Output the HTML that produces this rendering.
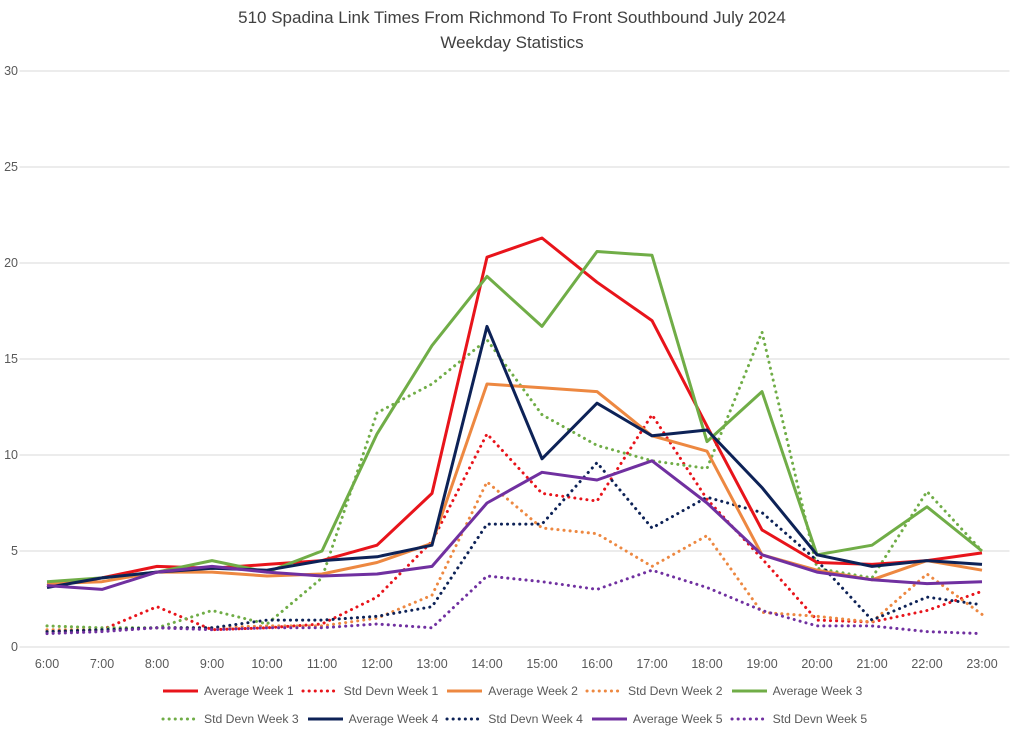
<!DOCTYPE html>
<html><head><meta charset="utf-8"><style>
body{margin:0;background:#fff;font-family:"Liberation Sans",sans-serif;}
#wrap{position:relative;width:1024px;height:738px;overflow:hidden;}
.legrow{position:absolute;left:160px;display:flex;align-items:center;font-size:12.2px;color:#595959;white-space:nowrap;}
.item{display:flex;align-items:center;margin-right:6px;}
.item svg{margin-right:4px;}
</style></head><body>
<div id="wrap">
<svg id="chart" width="1024" height="738" style="position:absolute;left:0;top:0">
<text x="512" y="23" text-anchor="middle" font-size="17" fill="#404040">510 Spadina Link Times From Richmond To Front Southbound July 2024</text>
<text x="512" y="48" text-anchor="middle" font-size="17" fill="#404040">Weekday Statistics</text>
<g id="grid"></g><g id="series"></g>
</svg>
<div class="legrow" style="top:684px" id="leg1"></div>
<div class="legrow" style="top:712px" id="leg2"></div>
</div>
<script>
const categories=["6:00","7:00","8:00","9:00","10:00","11:00","12:00","13:00","14:00","15:00","16:00","17:00","18:00","19:00","20:00","21:00","22:00","23:00"];
const yTicks=[0,5,10,15,20,25,30];
const avgW1=[3.2,3.6,4.2,4.1,4.3,4.5,5.3,8.0,20.3,21.3,19.0,17.0,11.5,6.1,4.4,4.3,4.5,4.9];
const sdW1=[0.8,0.9,2.1,0.9,1.0,1.2,2.6,5.5,11.1,8.0,7.6,12.1,7.7,4.6,1.4,1.3,1.9,2.9];
const avgW2=[3.3,3.4,3.9,3.9,3.7,3.8,4.4,5.4,13.7,13.5,13.3,11.0,10.2,4.8,4.0,3.5,4.5,4.0];
const sdW2=[0.9,0.9,1.0,1.0,1.1,1.1,1.5,2.7,8.6,6.2,5.9,4.2,5.8,1.8,1.6,1.3,3.8,1.7];
const avgW3=[3.4,3.6,3.9,4.5,3.9,5.0,11.1,15.7,19.3,16.7,20.6,20.4,10.7,13.3,4.8,5.3,7.3,5.0];
const sdW3=[1.1,1.0,1.0,1.9,1.2,3.6,12.2,13.7,16.0,12.1,10.5,9.7,9.3,16.4,4.1,3.6,8.1,5.0];
const avgW4=[3.1,3.6,3.9,4.1,4.0,4.5,4.7,5.3,16.7,9.8,12.7,11.0,11.3,8.3,4.8,4.2,4.5,4.3];
const sdW4=[0.8,0.9,1.0,1.0,1.4,1.4,1.6,2.1,6.4,6.4,9.6,6.2,7.8,7.0,4.5,1.4,2.6,2.2];
const avgW5=[3.2,3.0,3.9,4.2,3.9,3.7,3.8,4.2,7.5,9.1,8.7,9.7,7.5,4.8,3.9,3.5,3.3,3.4];
const sdW5=[0.7,0.8,1.0,0.9,1.0,1.0,1.2,1.0,3.7,3.4,3.0,4.0,3.1,1.9,1.1,1.1,0.8,0.7];
const seriesNames=["Average Week 1","Std Devn Week 1","Average Week 2","Std Devn Week 2","Average Week 3","Std Devn Week 3","Average Week 4","Std Devn Week 4","Average Week 5","Std Devn Week 5"];

const NS="http://www.w3.org/2000/svg";
const X0=19.5,X1=1009.5,Y0=647,Y1=71;
const step=(X1-X0)/categories.length;
const xS=i=>X0+step*(i+0.5);
const yS=v=>Y0-(v/30)*(Y0-Y1);
const grid=document.getElementById('grid');
yTicks.forEach(t=>{
  const l=document.createElementNS(NS,'line');
  l.setAttribute('x1',X0);l.setAttribute('x2',X1);l.setAttribute('y1',yS(t));l.setAttribute('y2',yS(t));
  l.setAttribute('stroke','#d9d9d9');l.setAttribute('stroke-width','1');
  
  
  grid.appendChild(l);
  const tx=document.createElementNS(NS,'text');
  tx.setAttribute('x',18);tx.setAttribute('y',yS(t)+4);tx.setAttribute('text-anchor','end');
  tx.setAttribute('font-size','12.5');tx.setAttribute('fill','#595959');tx.textContent=t;
  
  
  grid.appendChild(tx);
});
categories.forEach((c,i)=>{
  const tx=document.createElementNS(NS,'text');
  tx.setAttribute('x',xS(i));tx.setAttribute('y',668);tx.setAttribute('text-anchor','middle');
  tx.setAttribute('font-size','12.5');tx.setAttribute('fill','#595959');tx.textContent=c;
  
  
  grid.appendChild(tx);
});
const colors=["#e8141b","#e8141b","#ed8841","#ed8841","#70ad47","#70ad47","#0d2257","#0d2257","#7030a0","#7030a0"];
const datas=[avgW1,sdW1,avgW2,sdW2,avgW3,sdW3,avgW4,sdW4,avgW5,sdW5];
const sg=document.getElementById('series');
const order=[1,3,5,7,9,0,2,4,6,8];
order.forEach(k=>{
  const d=datas[k].map((v,i)=>(i?'L':'M')+xS(i).toFixed(1)+','+yS(v).toFixed(1)).join(' ');
  const p=document.createElementNS(NS,'path');
  p.setAttribute('d',d);p.setAttribute('fill','none');p.setAttribute('stroke',colors[k]);
  p.setAttribute('stroke-linejoin','round');
  if(k%2){p.setAttribute('stroke-width','3');p.setAttribute('stroke-dasharray','0.1 6');p.setAttribute('stroke-linecap','round');}
  else p.setAttribute('stroke-width','3');
  
  
  sg.appendChild(p);
});
seriesNames.forEach((n,k)=>{
  const row=document.getElementById(k<5?'leg1':'leg2');
  const it=document.createElement('div');it.className='item';
  
  
  const dash=k%2?'stroke-dasharray="0.1 6" stroke-linecap="round" stroke-width="3"':'stroke-width="3"';
  it.innerHTML='<svg width="40" height="8"><line x1="3" y1="4" x2="38" y2="4" stroke="'+colors[k]+'" '+dash+'/></svg><span>'+n+'</span>';
  row.appendChild(it);
});
</script>
</body></html>
